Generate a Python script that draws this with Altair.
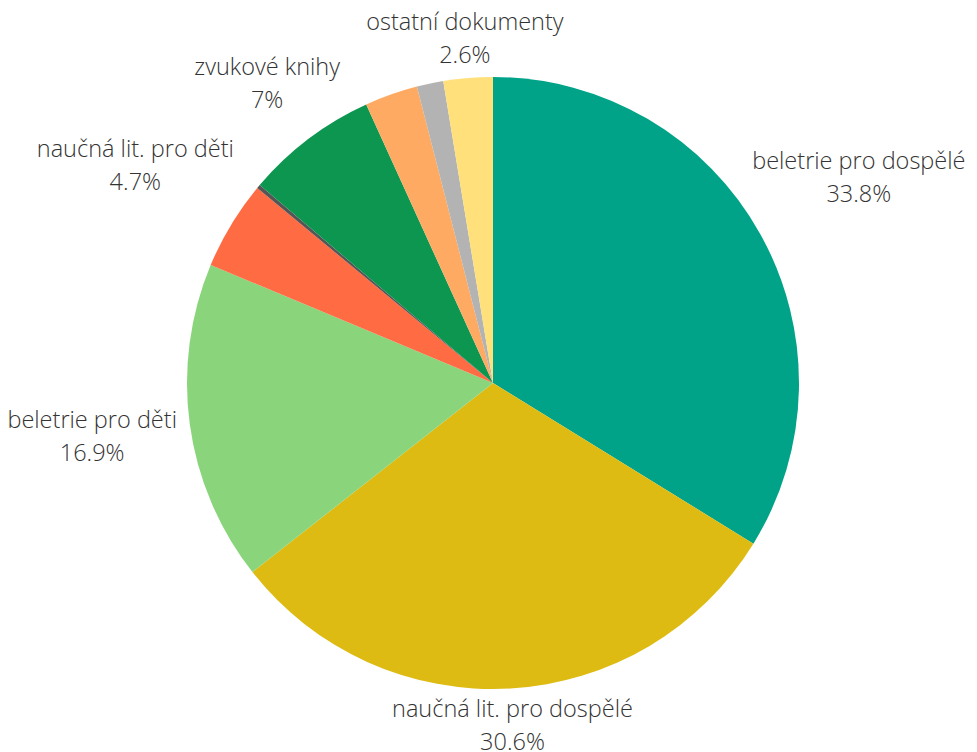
import altair as alt
import pandas as pd

# Slices in clockwise order from 12 o'clock
names = ["beletrie pro dospělé", "naučná lit. pro dospělé", "beletrie pro děti",
         "naučná lit. pro děti", "ostatní (malé)", "zvukové knihy",
         "ostatní 2", "ostatní 3", "ostatní dokumenty"]
values = [33.8, 30.6, 16.9, 4.7, 0.2, 7.0, 2.8, 1.4, 2.6]
shown = [True, True, True, True, False, True, False, False, True]
pct_text = ["33.8%", "30.6%", "16.9%", "4.7%", "", "7%", "", "", "2.6%"]
colors = ["#00A388", "#DEBB12", "#8AD57C", "#FF6B42", "#555555",
          "#0C9650", "#FFAA62", "#B3B3B3", "#FFE07A"]

df = pd.DataFrame({
    "idx": list(range(len(names))),
    "name": names,
    "value": values,
    "shown": shown,
    "pct": pct_text,
})

CX, CY, R = 485, 375, 306

base = alt.Chart(df)

arcs = base.mark_arc(outerRadius=R, stroke=None).encode(
    theta=alt.Theta("value:Q", stack=True),
    color=alt.Color("name:N", scale=alt.Scale(domain=names, range=colors), legend=None),
    order=alt.Order("idx:Q"),
    x=alt.value(CX),
    y=alt.value(CY),
)

labels = base.transform_window(
    cum="sum(value)", sort=[alt.SortField("idx")], frame=[None, 0]
).transform_joinaggregate(
    total="sum(value)"
).transform_calculate(
    mid="2*PI*(datum.cum - datum.value/2)/datum.total",
    lab="datum.name + '\\n' + datum.pct",
).transform_calculate(
    r="306 + 5.6*length(datum.name)*abs(sin(datum.mid)) + 31*abs(cos(datum.mid))"
).transform_filter(
    "datum.shown"
).mark_text(
    font="Open Sans", fontWeight=300, fontSize=23.5, color="#333333",
    lineBreak="\n", lineHeight=33, align="center", baseline="middle", dy=-16.5,
).encode(
    theta=alt.Theta("mid:Q", scale=None, stack=None),
    radius=alt.Radius("r:Q", scale=None),
    text="lab:N",
    x=alt.value(CX),
    y=alt.value(CY),
)

chart = alt.layer(arcs, labels).properties(
    width=961, height=744, padding=0,
    autosize=alt.AutoSizeParams(type="none"),
).configure_view(stroke=None)

chart.save("out.html", embed_options={"renderer": "svg", "actions": False})
